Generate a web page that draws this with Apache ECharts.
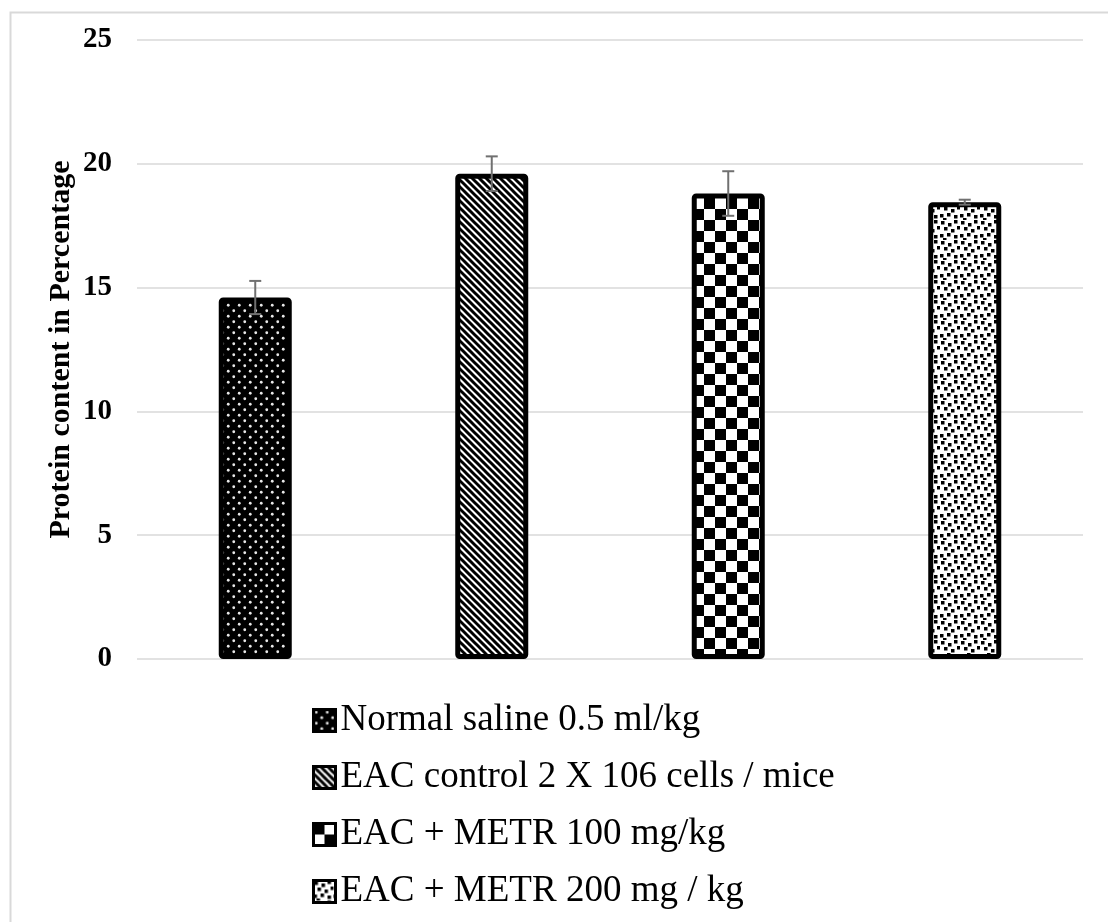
<!DOCTYPE html>
<html>
<head>
<meta charset="utf-8">
<script src="https://cdn.jsdelivr.net/npm/echarts@6/dist/echarts.min.js"></script>
<style>html,body{margin:0;padding:0;background:#fff}#c{width:1108px;height:922px}</style>
</head>
<body>
<div id="c"></div>
<script>
// ---- data ----
const categories = ['Normal saline 0.5 ml/kg', 'EAC control 2 X 106 cells / mice', 'EAC + METR 100 mg/kg', 'EAC + METR 200 mg / kg'];
const meanValues = [14.6, 19.6, 18.8, 18.45];
const errorValues = [0.67, 0.7, 0.9, 0.1];
const yTicks = [0, 5, 10, 15, 20, 25];
const yAxisTitle = 'Protein content in Percentage';

// ---- patterns ----
function tile(w, h, draw) {
  const c = document.createElement('canvas');
  c.width = w; c.height = h;
  const g = c.getContext('2d');
  draw(g, w, h);
  return c;
}
const patDots = tile(11, 11, (g, w, h) => {
  g.fillStyle = '#000'; g.fillRect(0, 0, w, h);
  g.fillStyle = '#e8e8e8';
  [[2.75, 2.75], [8.25, 8.25]].forEach(p => { g.beginPath(); g.arc(p[0], p[1], 1.4, 0, Math.PI * 2); g.fill(); });
});
const patStripes = tile(14, 14, (g, w, h) => {
  g.fillStyle = '#fff'; g.fillRect(0, 0, w, h);
  g.strokeStyle = '#000'; g.lineWidth = 3;
  for (let k = -2; k <= 2; k++) {
    g.beginPath(); g.moveTo(k * 7 - 2, -2); g.lineTo(k * 7 + w + 2, h + 2); g.stroke();
  }
});
const patChecker = tile(22, 22, (g, w, h) => {
  g.fillStyle = '#fff'; g.fillRect(0, 0, w, h);
  g.fillStyle = '#000'; g.fillRect(0, 0, 11, 11); g.fillRect(11, 11, 11, 11);
});
const patSpeckle = tile(20, 20, (g, w, h) => {
  g.fillStyle = '#fff'; g.fillRect(0, 0, w, h);
  g.fillStyle = '#000';
  [[1, 1], [8, 3], [14, 0], [4, 7], [11, 9], [17, 6], [0, 14], [7, 13], [14, 15], [3, 18]].forEach(p => g.fillRect(p[0], p[1], 3.5, 3.5));
});
const patterns = [patDots, patStripes, patChecker, patSpeckle];

const FONT = '"Liberation Serif", "Times New Roman", serif';

const barSeries = categories.map((name, i) => ({
  name: name,
  type: 'bar',
  barWidth: 73,
  barGap: '-100%',
  data: categories.map((_, j) => j === i ? meanValues[i] : '-'),
  itemStyle: {
    color: { image: patterns[i], repeat: 'repeat' },
    borderColor: '#000',
    borderWidth: 5,
    borderRadius: 2
  },
  emphasis: { disabled: true },
  z: 2
}));

const errorData = meanValues.map((v, i) => [i, v - errorValues[i], v + errorValues[i]]);

const errorSeries = {
  type: 'custom',
  name: 'error',
  data: errorData,
  z: 5,
  renderItem: function (params, api) {
    const x = api.value(0);
    const lo = api.coord([x, api.value(1)]);
    const hi = api.coord([x, api.value(2)]);
    const hw = 6;
    const style = { stroke: '#707070', lineWidth: 2, fill: 'none' };
    return {
      type: 'group',
      children: [
        { type: 'line', shape: { x1: hi[0], y1: hi[1], x2: lo[0], y2: lo[1] }, style: style },
        { type: 'line', shape: { x1: hi[0] - hw, y1: hi[1], x2: hi[0] + hw, y2: hi[1] }, style: style },
        { type: 'line', shape: { x1: lo[0] - hw, y1: lo[1], x2: lo[0] + hw, y2: lo[1] }, style: style }
      ]
    };
  }
};

const chart = echarts.init(document.getElementById('c'), null, { renderer: 'canvas' });
chart.setOption({
  animation: false,
  backgroundColor: '#fff',
  graphic: [{
    type: 'rect', left: 8, top: 10, silent: true,
    shape: { width: 1200, height: 1000 },
    style: { fill: 'none', stroke: '#d9d9d9', lineWidth: 2 }
  }],
  grid: { left: 137, right: 25, top: 40, bottom: 263 },
  legend: {
    data: categories,
    orient: 'vertical',
    left: 307,
    top: 697,
    height: 240,
    itemWidth: 22,
    itemHeight: 22,
    itemGap: 20,
    icon: 'rect',
    itemStyle: { borderWidth: 3, borderColor: '#000' },
    textStyle: { fontFamily: FONT, fontSize: 37, lineHeight: 36, color: '#000', padding: [0, 0, 0, 0] },
    selectedMode: false
  },
  xAxis: {
    type: 'category',
    data: categories,
    axisLine: { show: false },
    axisTick: { show: false },
    axisLabel: { show: false }
  },
  yAxis: {
    type: 'value',
    min: yTicks[0],
    max: yTicks[yTicks.length - 1],
    interval: 5,
    name: yAxisTitle,
    nameLocation: 'middle',
    nameGap: 61,
    nameMoveOverlap: false,
    nameTextStyle: { fontFamily: FONT, fontSize: 30, fontWeight: 'bold', color: '#000' },
    axisLabel: { fontFamily: FONT, fontSize: 29, fontWeight: 'bold', color: '#000', margin: 25 },
    splitLine: { lineStyle: { color: '#d9d9d9', width: 1.5 } },
    axisLine: { show: false },
    axisTick: { show: false }
  },
  series: barSeries.concat([errorSeries])
});
</script>
</body>
</html>
